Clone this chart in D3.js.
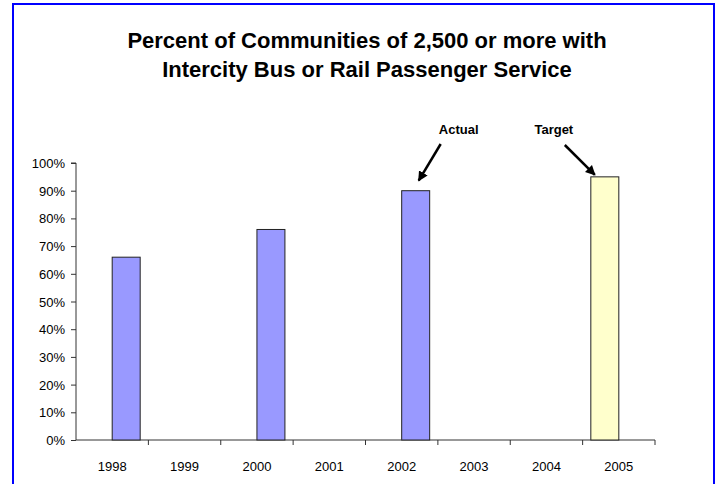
<!DOCTYPE html>
<html>
<head>
<meta charset="utf-8">
<script src="https://cdn.jsdelivr.net/npm/d3@7"></script>
<style>
  html, body { margin: 0; padding: 0; background: #fff; }
  svg { display: block; }
  text { font-family: "Liberation Sans", Arial, sans-serif; }
</style>
</head>
<body>
<script>
const years = ["1998", "1999", "2000", "2001", "2002", "2003", "2004", "2005"];
const seriesNames = ["Target", "Actual"];
const actualValues = [66, null, 76, null, 90, null, null, null];
const targetValues = [null, null, null, null, null, null, null, 95];
const yTicks = [0, 10, 20, 30, 40, 50, 60, 70, 80, 90, 100];
const titleLines = ["Percent of Communities of 2,500 or more with", "Intercity Bus or Rail Passenger Service"];

const W = 716, H = 484;
const svg = d3.select("body").append("svg").attr("width", W).attr("height", H);

// frame
svg.append("rect").attr("x", 13).attr("y", 4).attr("width", 701).attr("height", 500)
  .attr("fill", "#fff").attr("stroke", "#0000ff").attr("stroke-width", 2);

// title
svg.append("text").attr("x", 367).attr("y", 48).attr("text-anchor", "middle")
  .attr("font-size", 22).attr("font-weight", "bold").attr("fill", "#000")
  .selectAll("tspan").data(titleLines).join("tspan")
  .attr("x", 367).attr("dy", (d, i) => i === 0 ? 0 : 29).text(d => d);

const x = d3.scaleBand().domain(years).range([76, 655]).paddingInner(0).paddingOuter(0);
const x1 = d3.scaleBand().domain(seriesNames).range([0, x.bandwidth()]).paddingInner(0).paddingOuter(0.293);
const y = d3.scaleLinear().domain([0, 100]).range([440, 163]);

// y axis
const yAxis = d3.axisLeft(y).tickValues(yTicks).tickSize(5).tickFormat(d => d + "%");
const gy = svg.append("g").attr("transform", "translate(76,0)").call(yAxis);
gy.select(".domain").attr("stroke", "#333").attr("d", `M-5,${y(100)}H0V${y(0)}`);
gy.selectAll(".tick line").attr("stroke", "#333");
gy.selectAll(".tick text").attr("x", -11).attr("dy", "0.35em")
  .attr("font-family", "Liberation Sans, Arial, sans-serif").attr("font-size", 13).attr("fill", "#000");

// x axis
const gx = svg.append("g").attr("transform", `translate(0,${y(0)})`);
gx.append("line").attr("x1", x.range()[0]).attr("x2", x.range()[1]).attr("y1", 0).attr("y2", 0).attr("stroke", "#333");
const boundaries = years.map(d => x(d) + x.bandwidth());
gx.selectAll("line.tk").data(boundaries).join("line").attr("class", "tk")
  .attr("x1", d => d).attr("x2", d => d).attr("y1", 0).attr("y2", 5).attr("stroke", "#333");
gx.selectAll("text").data(years).join("text")
  .attr("x", d => x(d) + x.bandwidth() / 2).attr("y", 31)
  .attr("text-anchor", "middle").attr("font-size", 13).attr("fill", "#000").text(d => d);

// bars
const bw = x1.bandwidth();
svg.append("g").selectAll("rect").data(years.map((d, i) => ({ year: d, v: actualValues[i] })).filter(d => d.v != null))
  .join("rect")
  .attr("x", d => x(d.year) + x1("Actual")).attr("y", d => y(d.v))
  .attr("width", bw).attr("height", d => y(0) - y(d.v))
  .attr("fill", "#9999ff").attr("stroke", "#222").attr("stroke-width", 1);
svg.append("g").selectAll("rect").data(years.map((d, i) => ({ year: d, v: targetValues[i] })).filter(d => d.v != null))
  .join("rect")
  .attr("x", d => x(d.year) + x1("Target")).attr("y", d => y(d.v))
  .attr("width", bw).attr("height", d => y(0) - y(d.v))
  .attr("fill", "#ffffcc").attr("stroke", "#222").attr("stroke-width", 1);

// annotations
const defs = svg.append("defs");
defs.append("marker").attr("id", "ah").attr("viewBox", "0 0 10 10").attr("refX", 9).attr("refY", 5)
  .attr("markerWidth", 4).attr("markerHeight", 4).attr("orient", "auto")
  .append("path").attr("d", "M0,0L10,5L0,10z").attr("fill", "#000");

const aBar = { x: x("2002") + x1("Actual"), y: y(90) };
const tBar = { x: x("2005") + x1("Target"), y: y(95) };

svg.append("text").attr("x", aBar.x + 57).attr("y", 134).attr("text-anchor", "middle")
  .attr("font-size", 13).attr("font-weight", "bold").text("Actual");
svg.append("line").attr("x1", aBar.x + 39).attr("y1", 144).attr("x2", aBar.x + 17).attr("y2", aBar.y - 10)
  .attr("stroke", "#000").attr("stroke-width", 2.5).attr("marker-end", "url(#ah)");

svg.append("text").attr("x", tBar.x - 37).attr("y", 134).attr("text-anchor", "middle")
  .attr("font-size", 13).attr("font-weight", "bold").text("Target");
svg.append("line").attr("x1", tBar.x - 26).attr("y1", 145).attr("x2", tBar.x + 4).attr("y2", tBar.y - 2)
  .attr("stroke", "#000").attr("stroke-width", 2.5).attr("marker-end", "url(#ah)");
</script>
</body>
</html>
